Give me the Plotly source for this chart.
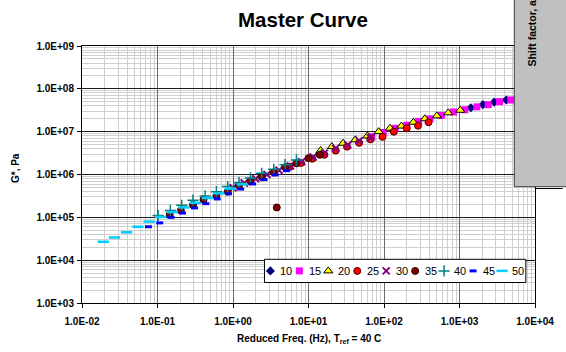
import plotly.graph_objects as go

# ---- master curve data: reduced frequency (Hz) and |G*| (Pa) per test temperature (C)
temps = ["10", "15", "20", "25", "30", "35", "40", "45", "50"]

freq_10 = [1413, 2042, 2884, 4169, 5888, 8511]
g_10 = [3.63e7, 4.27e7, 4.90e7, 5.50e7, 6.17e7, 6.76e7]

freq_15 = [69.2, 97.7, 141, 200, 288, 407, 575, 832, 1175, 1698, 2399, 3388, 4786]
g_15 = [7.59e6, 9.55e6, 1.20e7, 1.41e7, 1.74e7, 2.0e7, 2.40e7, 2.88e7, 3.24e7, 3.80e7, 4.27e7, 5.01e7, 5.50e7]

freq_20 = [14.5, 20.4, 28.8, 41.7, 60.3, 85.1, 120, 170, 245, 347, 501, 708, 1023]
g_20 = [3.63e6, 4.47e6, 5.37e6, 6.46e6, 7.94e6, 1.0e7, 1.20e7, 1.35e7, 1.66e7, 2.0e7, 2.34e7, 2.75e7, 3.16e7]

freq_25 = [5.62, 7.94, 11.2, 16.2, 22.9, 32.4, 46.8, 66.1, 95.5, 135, 200, 282, 389]
g_25 = [1.51e6, 1.86e6, 2.34e6, 2.88e6, 3.63e6, 4.47e6, 5.50e6, 6.61e6, 7.59e6, 1.0e7, 1.20e7, 1.38e7, 1.66e7]

freq_30 = [1.0, 1.41, 2.0, 2.82, 4.07, 5.75, 8.13, 11.5, 16.2, 22.9, 33.1, 46.8, 66.1]
g_30 = [4.90e5, 6.31e5, 7.94e5, 1.0e6, 1.26e6, 1.58e6, 2.0e6, 2.57e6, 3.16e6, 4.07e6, 4.90e6, 6.17e6, 7.24e6]

freq_35 = [0.145, 0.204, 0.295, 0.407, 0.603, 0.851, 1.20, 1.70, 2.40, 3.47, 3.80, 4.90, 6.92, 10.0, 14.1]
g_35 = [1.15e5, 1.45e5, 1.95e5, 2.57e5, 3.24e5, 3.98e5, 5.50e5, 6.92e5, 8.71e5, 1.12e6, 1.70e5, 1.48e6, 1.82e6, 2.40e6, 2.88e6]

freq_40 = [0.102, 0.148, 0.209, 0.295, 0.427, 0.603, 0.851, 1.20, 1.70, 2.40, 3.47, 4.90, 6.92]
g_40 = [1.10e5, 1.45e5, 1.91e5, 2.51e5, 3.16e5, 3.98e5, 5.25e5, 6.46e5, 8.32e5, 1.07e6, 1.32e6, 1.70e6, 2.19e6]

freq_45 = [0.0759, 0.107, 0.151, 0.214, 0.309, 0.437, 0.617, 0.871, 1.26, 1.82, 2.57, 3.63, 5.13]
g_45 = [6.03e4, 7.41e4, 1.0e5, 1.26e5, 1.66e5, 2.09e5, 2.69e5, 3.55e5, 4.57e5, 6.03e5, 7.59e5, 9.77e5, 1.23e6]

freq_50 = [0.0191, 0.0269, 0.0389, 0.0550, 0.0776, 0.110, 0.158, 0.224, 0.316, 0.457, 0.646, 0.912, 1.32]
g_50 = [2.69e4, 3.39e4, 4.47e4, 6.03e4, 7.94e4, 1.02e5, 1.32e5, 1.70e5, 2.19e5, 2.82e5, 3.63e5, 4.68e5, 5.89e5]

x_tickvals = [1e-2, 1e-1, 1e0, 1e1, 1e2, 1e3, 1e4]
x_ticktext = ["1.0E-02", "1.0E-01", "1.0E+00", "1.0E+01", "1.0E+02", "1.0E+03", "1.0E+04"]
y_tickvals = [1e3, 1e4, 1e5, 1e6, 1e7, 1e8, 1e9]
y_ticktext = ["1.0E+03", "1.0E+04", "1.0E+05", "1.0E+06", "1.0E+07", "1.0E+08", "1.0E+09"]

series_x = [freq_10, freq_15, freq_20, freq_25, freq_30, freq_35, freq_40, freq_45, freq_50]
series_y = [g_10, g_15, g_20, g_25, g_30, g_35, g_40, g_45, g_50]

# ---- marker styles, one per temperature
styles = [
    dict(symbol="diamond", size=7, color="#000080", line=dict(width=0)),
    dict(symbol="square", size=7, color="#FF00FF", line=dict(width=0)),
    dict(symbol="triangle-up", size=8, color="#FFFF00", line=dict(width=1, color="#000000")),
    dict(symbol="circle", size=7, color="#FF0000", line=dict(width=1, color="#500000")),
    dict(symbol="x-thin-open", size=7, color="#800080", line=dict(width=2, color="#800080")),
    dict(symbol="circle", size=7, color="#800000", line=dict(width=1, color="#300000")),
    dict(symbol="cross-thin-open", size=8, color="#008080", line=dict(width=1.5, color="#008080")),
    dict(symbol="line-ew-open", size=5, color="#0000FF", line=dict(width=3, color="#0000FF")),
    dict(symbol="line-ew-open", size=8, color="#00CCFF", line=dict(width=2.5, color="#00CCFF")),
]

# ---- page geometry (px)
W, H = 566, 352
L, R, T, B = 82, 24, 46, 49
PW, PH = W - L - R, H - T - B


def px(x):
    return (x - L) / PW


def py(y):
    return (H - B - y) / PH


FONT = "Liberation Sans, Arial, sans-serif"

fig = go.Figure()

for name, xs, ys, st in zip(temps, series_x, series_y, styles):
    fig.add_trace(go.Scatter(x=xs, y=ys, mode="markers", name=name,
                             marker=st, showlegend=False, cliponaxis=True))

# ---- legend box drawn on a pixel-unit overlay axis
lg_left, lg_right, lg_top, lg_bot = 267.3, 532.7, 259.3, 282.5
lg_y = (lg_top + lg_bot) / 2
fig.add_trace(go.Scatter(
    x=[lg_left, lg_right, lg_right, lg_left, lg_left],
    y=[lg_top, lg_top, lg_bot, lg_bot, lg_top],
    mode="lines", fill="toself", fillcolor="white",
    line=dict(color="black", width=1), xaxis="x2", yaxis="y2",
    showlegend=False, hoverinfo="skip"))

lg_x0, lg_step = 273.3, 29.4
for i, (name, st) in enumerate(zip(temps, styles)):
    mx = lg_x0 + i * lg_step
    fig.add_trace(go.Scatter(x=[mx], y=[lg_y], mode="markers", marker=st,
                             xaxis="x2", yaxis="y2", showlegend=False,
                             hoverinfo="skip"))
    fig.add_annotation(x=mx + 8, y=lg_y, xref="x2", yref="y2", text=name,
                       showarrow=False, xanchor="left", yanchor="middle",
                       font=dict(family=FONT, size=11, color="black"))

axis_common = dict(
    type="log", showline=True, linecolor="black", linewidth=1, mirror=True,
    ticks="outside", ticklen=4, tickcolor="black", tickwidth=1,
    tickmode="array", zeroline=False,
    tickfont=dict(family=FONT, size=10, color="black", weight="bold"),
)

fig.update_layout(
    width=W, height=H,
    margin=dict(l=L, r=R, t=T, b=B, pad=0),
    paper_bgcolor="white", plot_bgcolor="white",
    showlegend=False,
    xaxis=dict(axis_common, range=[-2, 4], tickvals=x_tickvals, ticktext=x_ticktext,
               ticklabelstandoff=5,
               showgrid=True, gridcolor="#6a6a6a", gridwidth=1.3,
               minor=dict(dtick="D1", showgrid=True, gridcolor="#cfcfcf", gridwidth=1)),
    yaxis=dict(axis_common, range=[3, 9], tickvals=y_tickvals, ticktext=y_ticktext,
               ticklabelstandoff=1,
               showgrid=True, gridcolor="#1a1a1a", gridwidth=1.2,
               minor=dict(dtick="D1", showgrid=True, gridcolor="#cfcfcf", gridwidth=1)),
    xaxis2=dict(overlaying="x", anchor="y2", range=[L, W - R], visible=False,
                fixedrange=True),
    yaxis2=dict(overlaying="y", anchor="x2", range=[H - B, T], visible=False,
                fixedrange=True),
)

# ---- titles
fig.add_annotation(x=px(306), y=py(20), xref="paper", yref="paper",
                   text="<b>Master Curve</b>", showarrow=False,
                   xanchor="center", yanchor="middle",
                   font=dict(family=FONT, size=20.5, color="black"))
fig.add_annotation(x=px(312), y=py(339), xref="paper", yref="paper",
                   text="<b>Reduced Freq. (Hz), T<sub>ref</sub> = 40 C</b>",
                   showarrow=False, xanchor="center", yanchor="middle",
                   font=dict(family=FONT, size=10, color="black"))
fig.add_annotation(x=px(14), y=py(168), xref="paper", yref="paper",
                   text="<b>G*, Pa</b>", showarrow=False, textangle=-90,
                   xanchor="center", yanchor="middle",
                   font=dict(family=FONT, size=10, color="black"))

# ---- shift factor panel overlapping the top-right corner
fig.add_shape(type="rect", xref="paper", yref="paper",
              x0=px(521), x1=px(575), y0=py(186.7), y1=py(-10),
              fillcolor="#C0C0C0", line=dict(color="#404040", width=1),
              layer="above")
fig.add_shape(type="line", xref="paper", yref="paper",
              x0=px(541.7), x1=px(570), y0=py(188.5), y1=py(188.5),
              line=dict(color="black", width=1), layer="above")
fig.add_annotation(x=px(538.5), y=py(68.5), xref="paper", yref="paper",
                   text="<b>Shift factor, a</b>", showarrow=False,
                   textangle=-90, xanchor="center", yanchor="bottom",
                   font=dict(family=FONT, size=10.5, color="black"))

fig.write_html("out.html")
